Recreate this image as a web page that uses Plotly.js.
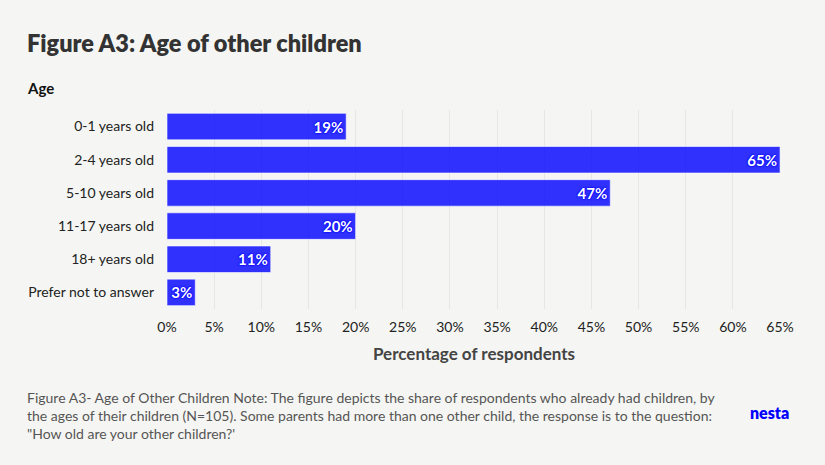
<!DOCTYPE html>
<html>
<head>
<meta charset="utf-8">
<script src="https://cdn.plot.ly/plotly-3.0.1.min.js"></script>
<style>
html,body{margin:0;padding:0;background:#f5f6f3;}
#chart{width:825px;height:465px;}
</style>
</head>
<body>
<div id="chart"></div>
<script>
var categories = ["0-1 years old", "2-4 years old", "5-10 years old", "11-17 years old", "18+ years old", "Prefer not to answer"];
var values = [19, 65, 47, 20, 11, 3];
var tickVals = [0, 5, 10, 15, 20, 25, 30, 35, 40, 45, 50, 55, 60, 65];
var tickText = tickVals.map(function(v){ return v + "%"; });
var labels = values.map(function(v){ return v + "%"; });

var FONT = "Lato, 'Open Sans', sans-serif";
var PW = 614, PH = 199, ML = 167, MT = 110;
function px(x){ return (x - ML) / PW; }
function py(y){ return 1 - (y - MT) / PH; }

var trace = {
  type: "bar",
  orientation: "h",
  y: categories,
  x: values,
  text: labels,
  textposition: "inside",
  insidetextanchor: "end",
  constraintext: "none",
  textangle: 0,
  textfont: {family: FONT, size: 15, color: "#ffffff", weight: 700,
             shadow: "0 0 2px #0000ff, 0 0 2px #0000ff, 0 0 1px #0000ff"},
  marker: {color: "rgba(0,0,255,0.8)", line: {color: "rgba(255,255,255,0.6)", width: 1}},
  hoverinfo: "none"
};

var layout = {
  width: 825, height: 465,
  paper_bgcolor: "#f5f6f3",
  plot_bgcolor: "#f5f6f3",
  margin: {l: ML, r: 44, t: MT, b: 156},
  bargap: 0.2,
  showlegend: false,
  font: {family: FONT, color: "#222"},
  xaxis: {
    range: [0, 65.1],
    tickvals: tickVals,
    ticktext: tickText,
    showgrid: true,
    gridcolor: "#e6e6e3",
    gridwidth: 1,
    zeroline: false,
    showline: false,
    ticks: "",
    ticklabelstandoff: 8,
    tickfont: {family: FONT, size: 14, color: "#222"},
    title: {text: "Percentage of respondents", standoff: 14,
            font: {family: FONT, size: 17, color: "#444", weight: 700}},
    fixedrange: true
  },
  yaxis: {
    autorange: "reversed",
    showgrid: false,
    zeroline: false,
    showline: false,
    ticks: "",
    ticklabelstandoff: 12,
    tickfont: {family: FONT, size: 14, color: "#222"},
    fixedrange: true
  },
  annotations: [
    {text: "Figure A3: Age of other children", xref: "paper", yref: "paper",
     x: px(25), y: py(43), xanchor: "left", yanchor: "middle",
     showarrow: false, font: {family: FONT, size: 23.5, color: "#333", weight: 800}},
    {text: "Age", xref: "paper", yref: "paper",
     x: px(25), y: py(88), xanchor: "left", yanchor: "middle",
     showarrow: false, font: {family: FONT, size: 15, color: "#111", weight: 700}},
    {text: "Figure A3- Age of Other Children Note: The figure depicts the share of respondents who already had children, by<br>the ages of their children (N=105). Some parents had more than one other child, the response is to the question:<br>\"How old are your other children?'",
     xref: "paper", yref: "paper", align: "left",
     x: px(25), y: py(387), xanchor: "left", yanchor: "top",
     showarrow: false, font: {family: FONT, size: 14, color: "#555"}},
    {text: "nesta", xref: "paper", yref: "paper",
     x: px(748), y: py(412), xanchor: "left", yanchor: "middle",
     showarrow: false, font: {family: FONT, size: 16, color: "#0000ff", weight: 800}}
  ]
};

Plotly.newPlot("chart", [trace], layout, {displayModeBar: false, staticPlot: true});
</script>
</body>
</html>
